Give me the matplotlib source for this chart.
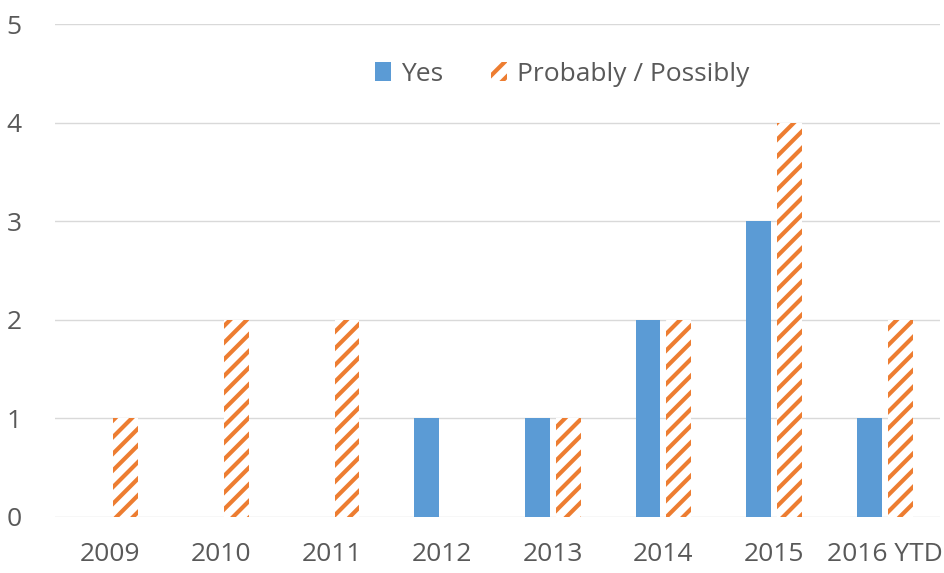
import matplotlib
matplotlib.use("Agg")
import matplotlib.pyplot as plt
import numpy as np
from matplotlib.patches import Patch

categories = ["2009", "2010", "2011", "2012", "2013", "2014", "2015", "2016 YTD"]
yes_counts = [0, 0, 0, 1, 1, 2, 3, 1]
probably_counts = [1, 2, 2, 0, 1, 2, 4, 2]
y_ticks = [0, 1, 2, 3, 4, 5]

blue = "#5B9BD5"
orange = "#ED7D31"
text_gray = "#595959"
grid_gray = "#D9D9D9"

plt.rcParams["font.family"] = ["Open Sans", "DejaVu Sans"]
plt.rcParams["hatch.linewidth"] = 3.0

fig = plt.figure(figsize=(9.44, 5.73), dpi=100)
ax = fig.add_axes([55 / 944, 1 - 517 / 573, 885 / 944, 493 / 573])

x = np.arange(len(categories))
w = 0.225
gap = 0.055
ax.bar(x - (w + gap) / 2, yes_counts, width=w, color=blue, linewidth=0, zorder=3)
ax.bar(x + (w + gap) / 2, probably_counts, width=w, facecolor="white",
       edgecolor=orange, hatch="//", linewidth=0, zorder=3)

ax.set_xlim(-0.5, len(categories) - 0.5)
ax.set_ylim(0, 5)
ax.set_yticks(y_ticks)
ax.set_xticks(x)
ax.set_xticklabels(categories)
ax.tick_params(axis="both", length=0, labelsize=19, colors=text_gray)
ax.tick_params(axis="x", pad=18)
ax.tick_params(axis="y", pad=24)
ax.grid(axis="y", color=grid_gray, linewidth=1, zorder=0)
for s in ax.spines.values():
    s.set_visible(False)

handles = [
    Patch(facecolor=blue, edgecolor="none", label="Yes"),
    Patch(facecolor="white", edgecolor=orange, hatch="//", linewidth=0,
          label="Probably / Possibly"),
]
leg = ax.legend(handles=handles, ncol=2, frameon=False, loc="center",
                bbox_to_anchor=(0.573, 0.898), fontsize=19, labelcolor=text_gray,
                handlelength=0.6, handleheight=0.75, handletextpad=0.4,
                columnspacing=1.8)

fig.savefig("out.png", dpi=100)
